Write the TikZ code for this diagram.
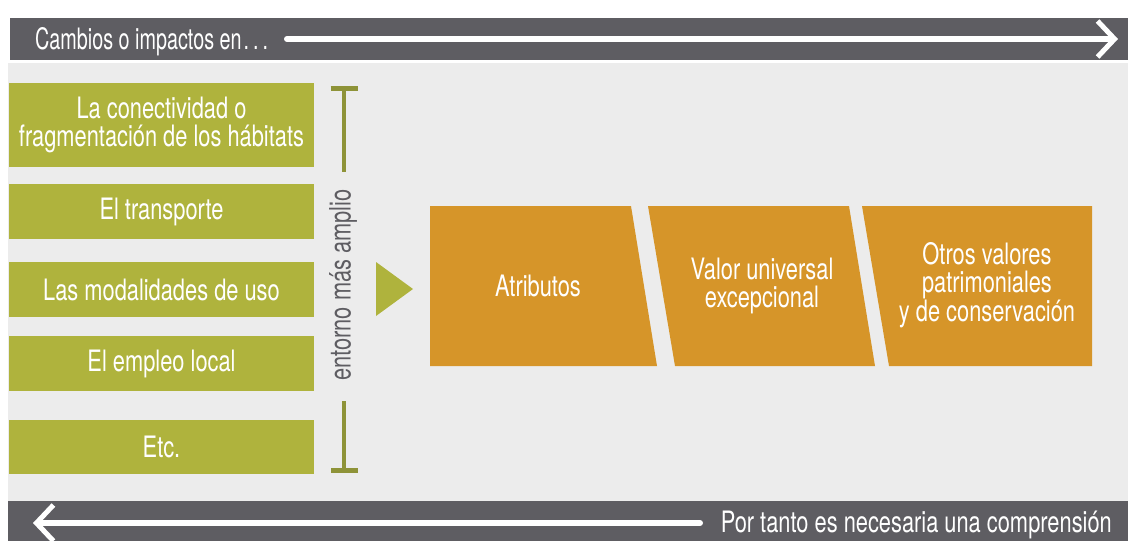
\documentclass[tikz,border=0pt]{standalone}
\usepackage{fontspec}
\setmainfont{TeX Gyre Heros}[FakeStretch=0.74]
\newfontfamily\narrowfont{TeX Gyre Heros}[FakeStretch=0.67]
\usetikzlibrary{arrows.meta}

\definecolor{bargray}{RGB}{94,93,98}
\definecolor{backgray}{RGB}{236,236,236}
\definecolor{leafgreen}{RGB}{175,179,61}
\definecolor{bracketgreen}{RGB}{142,147,56}
\definecolor{ochre}{RGB}{214,149,41}

\begin{document}
\begin{tikzpicture}[x=1pt, y=-1pt,
  every node/.style={font=\fontsize{29.5}{27.5}\selectfont, text=white},
  greenbox/.style={fill=leafgreen, minimum width=305pt, align=center, inner sep=0pt},
  bracket/.style={draw=bracketgreen, line width=3.5pt},
  whitearrow/.style={white, line width=6pt, line cap=round,
    -{Straight Barb[length=17pt, width=36pt, line width=5pt]}}]

  \useasboundingbox (0,0) rectangle (1128,541);

  % background and the two bars
  \fill[backgray] (8,63) rectangle (1128,501);
  \fill[bargray] (10,18) rectangle (1128,60);
  \fill[bargray] (8,501) rectangle (1128,541);

  \node[anchor=base west, inner sep=0pt, font=\fontsize{29.5}{27.5}\narrowfont] (cambios) at (35,49)
    {Cambios o impactos en\kern2pt.\kern4pt.\kern4pt.};
  \coordinate (topstart) at (287,39);
  \coordinate (topend) at (1118,39);
  \draw[whitearrow] (topstart) -- (topend);

  % left column
  \node[greenbox, minimum height=84pt] (habitats) at (161.5,125)
    {La conectividad o\\fragmentación de los hábitats};
  \node[greenbox, minimum height=55pt] (transporte) at (161.5,211.5) {El transporte};
  \node[greenbox, minimum height=55pt] (modalidades) at (161.5,289.5) {Las modalidades de uso};
  \node[greenbox, minimum height=55pt] (empleo) at (161.5,363.5) {El empleo local};
  \node[greenbox, minimum height=54pt] (etc) at (161.5,447) {Etc.};

  % bracket with the rotated label
  \coordinate (brtop) at (344,86);
  \coordinate (brtopend) at (344,172);
  \coordinate (brbotstart) at (344,401);
  \coordinate (brbot) at (344,473);
  \draw[bracket, {Bar[width=27pt, line width=5pt]}-] (brtop) -- (brtopend);
  \draw[bracket, -{Bar[width=27pt, line width=5pt]}] (brbotstart) -- (brbot);
  \node[rotate=90, text=bargray] (entorno) at (343,285) {entorno más amplio};

  \fill[leafgreen] (376,262) -- (413,289) -- (376,316) -- cycle;

  % coordinates for the slanted boxes
  \coordinate (A) at (430,206);
  \coordinate (B) at (631,206);
  \coordinate (C) at (657,366);
  \coordinate (D) at (430,366);
  \fill[ochre] (A)--(B)--(C)--(D)--cycle;

  \coordinate (A1) at (648,206);
  \coordinate (B1) at (849,206);
  \coordinate (C1) at (875,366);
  \coordinate (D1) at (675,366);
  \fill[ochre] (A1)--(B1)--(C1)--(D1)--cycle;

  \coordinate (A2) at (862,206);
  \coordinate (B2) at (1092,206);
  \coordinate (C2) at (1092,366);
  \coordinate (D2) at (889,366);
  \fill[ochre] (A2)--(B2)--(C2)--(D2)--cycle;

  \node (atributos) at (538,286) {Atributos};
  \node[align=center] (valor) at (762,286) {Valor universal\\excepcional};
  \node[align=center] (otros) at (987,285) {Otros valores\\patrimoniales\\y de conservación};

  % bottom bar
  \node[anchor=base east, inner sep=0pt] (comprension) at (1112,532) {Por tanto es necesaria una comprensión};
  \coordinate (botstart) at (700,523);
  \coordinate (botend) at (33,523);
  \draw[whitearrow] (botstart) -- (botend);
\end{tikzpicture}
\end{document}
